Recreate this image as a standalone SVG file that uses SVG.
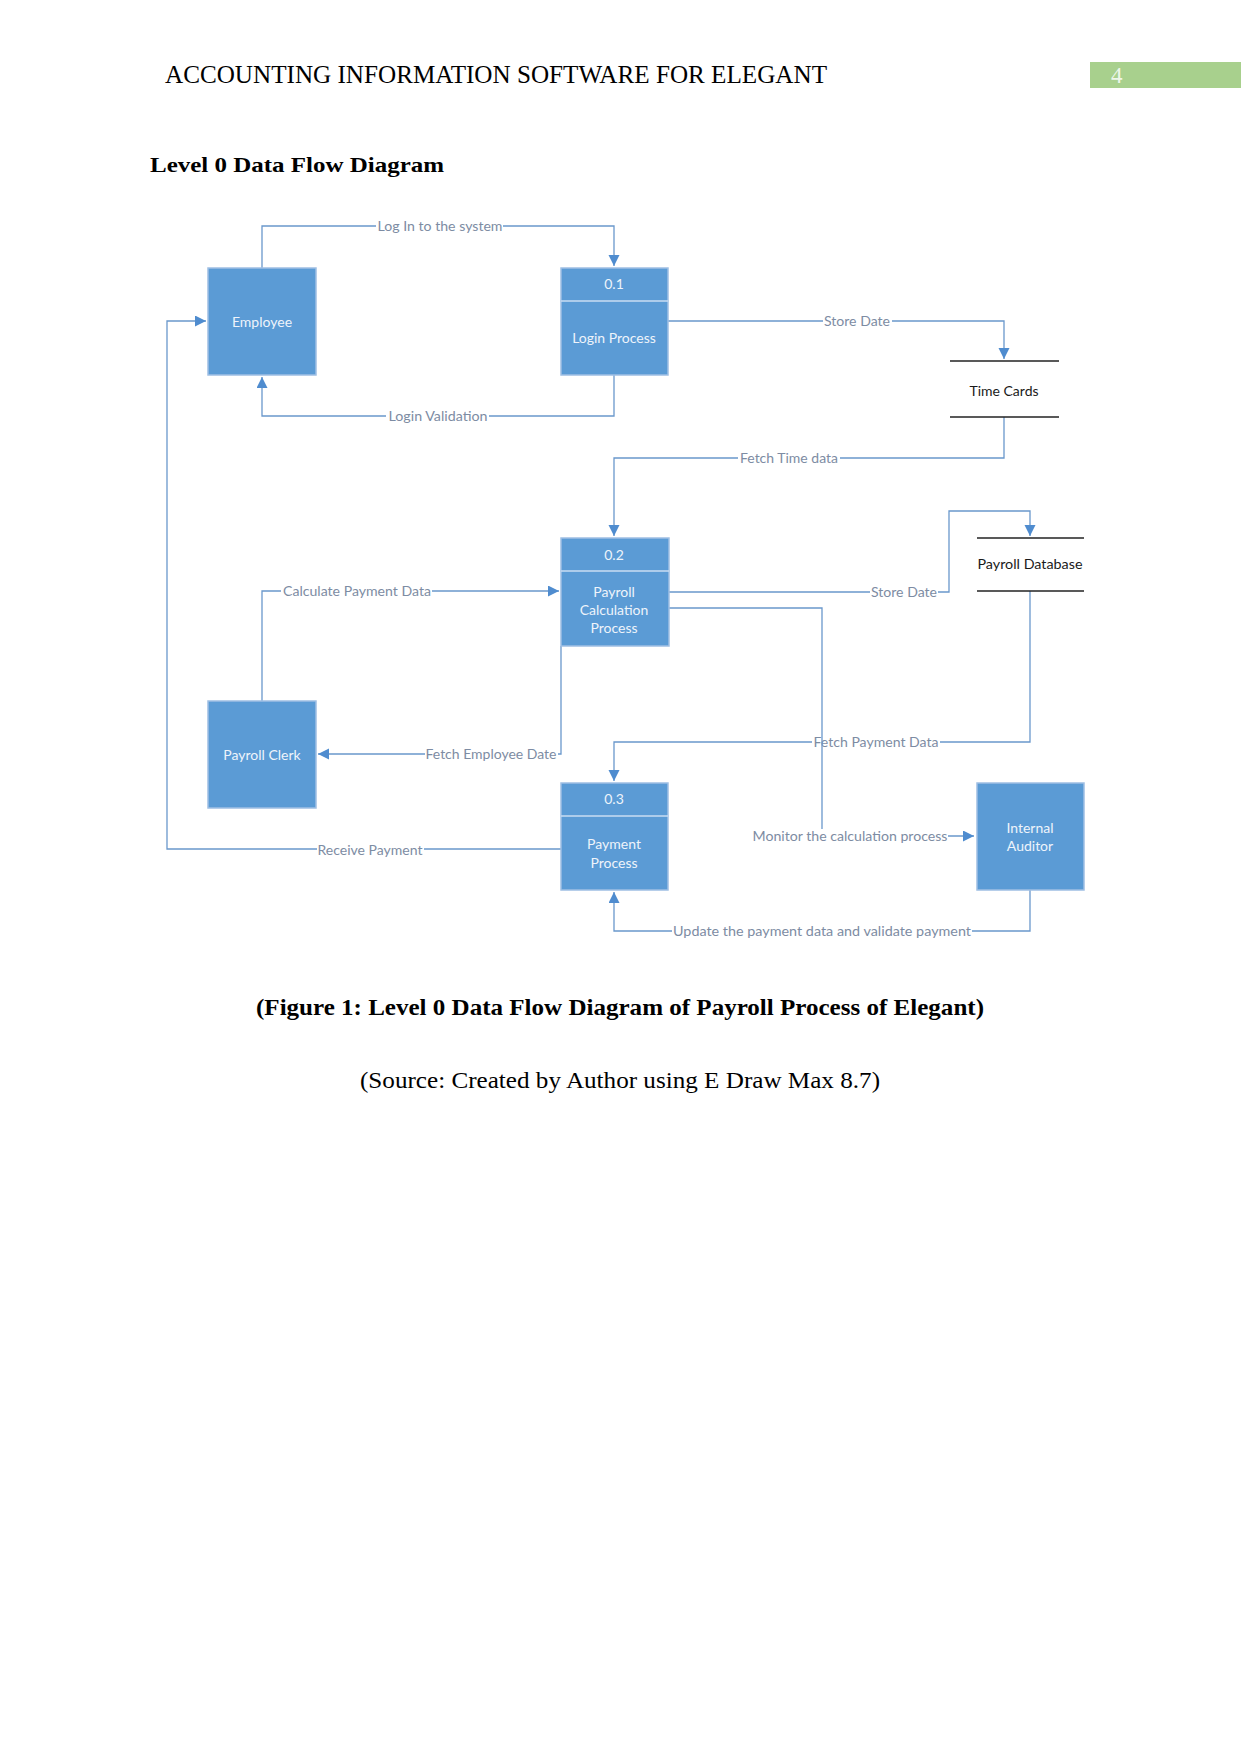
<svg xmlns="http://www.w3.org/2000/svg" width="1241" height="1754" viewBox="0 0 1241 1754">
<style>
.serif{font-family:"Liberation Serif","Times New Roman",serif;fill:#000}
.box{fill:#5b9bd5;stroke:#9fbfe3;stroke-width:1.5}
.div{stroke:#c9dcf2;stroke-width:1.5}
.bt{font-family:Lato,"Open Sans",sans-serif;font-size:14px;fill:#eef4fb;text-anchor:middle;dominant-baseline:central}
.st{font-family:Lato,"Open Sans",sans-serif;font-size:14px;fill:#1a1a1a;text-anchor:middle;dominant-baseline:central}
.ds{stroke:#222;stroke-width:1.4}
.cn{fill:none;stroke:#6a98cc;stroke-width:1.3}
.bg{fill:#fff}
.lb{font-family:Lato,"Open Sans",sans-serif;font-size:13px;fill:#7d8ca3;text-anchor:middle;dominant-baseline:central}
</style>
<defs>
<marker id="ah" markerUnits="userSpaceOnUse" markerWidth="12" markerHeight="12" refX="11" refY="5.5" orient="auto">
<path d="M0,0 L11,5.5 L0,11 z" fill="#4f8ccf"/>
</marker>
</defs>
<rect width="1241" height="1754" fill="#fff"/>

<g id="header">
<text class="serif" x="165" y="83" font-size="24.5" textLength="662" lengthAdjust="spacingAndGlyphs">ACCOUNTING INFORMATION SOFTWARE FOR ELEGANT</text>
<rect x="1090" y="62" width="151" height="26" fill="#a8d08d"/>
<text x="1111" y="83" font-family="Liberation Serif,serif" font-size="23" fill="#eef6ea">4</text>
</g>
<g id="title">
<text class="serif" x="150" y="172" font-size="22" font-weight="bold" textLength="294" lengthAdjust="spacingAndGlyphs">Level 0 Data Flow Diagram</text>
</g>

<g id="connectors">
<g id="c-login"><path class="cn" d="M262,268 V226 H614 V266" marker-end="url(#ah)"/><rect class="bg" x="376" y="219" width="127" height="14"/><text class="lb" x="440" y="226" textLength="125" lengthAdjust="spacingAndGlyphs">Log In to the system</text></g>
<g id="c-validation"><path class="cn" d="M614,375 V416 H262 V377" marker-end="url(#ah)"/><rect class="bg" x="386" y="409" width="103" height="14"/><text class="lb" x="438" y="416" textLength="99" lengthAdjust="spacingAndGlyphs">Login Validation</text></g>
<g id="c-store1"><path class="cn" d="M668,321 H1004 V359" marker-end="url(#ah)"/><rect class="bg" x="823" y="314" width="69" height="14"/><text class="lb" x="857" y="321" textLength="66" lengthAdjust="spacingAndGlyphs">Store Date</text></g>
<g id="c-fetchtime"><path class="cn" d="M1004,417 V458 H614 V536" marker-end="url(#ah)"/><rect class="bg" x="738" y="451" width="102" height="14"/><text class="lb" x="789" y="458" textLength="98" lengthAdjust="spacingAndGlyphs">Fetch Time data</text></g>
<g id="c-store2"><path class="cn" d="M669,592 H949 V511 H1030 V536" marker-end="url(#ah)"/><rect class="bg" x="870" y="585" width="68" height="14"/><text class="lb" x="904" y="592" textLength="66" lengthAdjust="spacingAndGlyphs">Store Date</text></g>
<g id="c-calc"><path class="cn" d="M262,701 V591 H559" marker-end="url(#ah)"/><rect class="bg" x="281" y="584" width="151" height="14"/><text class="lb" x="357" y="591" textLength="148" lengthAdjust="spacingAndGlyphs">Calculate Payment Data</text></g>
<g id="c-fetchemp"><path class="cn" d="M561,646 V754 H318" marker-end="url(#ah)"/><rect class="bg" x="425" y="747" width="133" height="14"/><text class="lb" x="491" y="754" textLength="131" lengthAdjust="spacingAndGlyphs">Fetch Employee Date</text></g>
<g id="c-fetchpay"><path class="cn" d="M1030,591 V742 H614 V781" marker-end="url(#ah)"/><rect class="bg" x="812" y="735" width="128" height="14"/><text class="lb" x="876" y="742" textLength="125" lengthAdjust="spacingAndGlyphs">Fetch Payment Data</text></g>
<g id="c-monitor"><path class="cn" d="M669,608 H822 V836 H974" marker-end="url(#ah)"/><rect class="bg" x="751" y="829" width="197" height="14"/><text class="lb" x="850" y="836" textLength="195" lengthAdjust="spacingAndGlyphs">Monitor the calculation process</text></g>
<g id="c-receive"><path class="cn" d="M561,849 H167 V321 H206" marker-end="url(#ah)"/><rect class="bg" x="317" y="842" width="107" height="14"/><text class="lb" x="370" y="850" textLength="105" lengthAdjust="spacingAndGlyphs">Receive Payment</text></g>
<g id="c-update"><path class="cn" d="M1030,889 V931 H614 V892" marker-end="url(#ah)"/><rect class="bg" x="672" y="924" width="300" height="14"/><text class="lb" x="822" y="931" textLength="298" lengthAdjust="spacingAndGlyphs">Update the payment data and validate payment</text></g>
</g>

<g id="employee"><rect class="box" x="208" y="268" width="108" height="107"/><text class="bt" x="262" y="321">Employee</text></g>
<g id="p01"><rect class="box" x="561" y="268" width="107" height="107"/><line class="div" x1="561" y1="301" x2="668" y2="301"/><text class="bt" x="614" y="283">0.1</text><text class="bt" x="614" y="337">Login Process</text></g>
<g id="timecards"><line class="ds" x1="950" y1="361" x2="1059" y2="361"/><line class="ds" x1="950" y1="417" x2="1059" y2="417"/><text class="st" x="1004" y="390">Time Cards</text></g>
<g id="p02"><rect class="box" x="561" y="538" width="108" height="108"/><line class="div" x1="561" y1="571" x2="669" y2="571"/><text class="bt" x="614" y="554">0.2</text><text class="bt" x="614" y="591">Payroll</text><text class="bt" x="614" y="609">Calculation</text><text class="bt" x="614" y="627">Process</text></g>
<g id="payrolldb"><line class="ds" x1="977" y1="538" x2="1084" y2="538"/><line class="ds" x1="977" y1="591" x2="1084" y2="591"/><text class="st" x="1030" y="563" textLength="105" lengthAdjust="spacingAndGlyphs">Payroll Database</text></g>
<g id="payrollclerk"><rect class="box" x="208" y="701" width="108" height="107"/><text class="bt" x="262" y="754">Payroll Clerk</text></g>
<g id="p03"><rect class="box" x="561" y="783" width="107" height="107"/><line class="div" x1="561" y1="816" x2="668" y2="816"/><text class="bt" x="614" y="798">0.3</text><text class="bt" x="614" y="843">Payment</text><text class="bt" x="614" y="862">Process</text></g>
<g id="auditor"><rect class="box" x="977" y="783" width="107" height="107"/><text class="bt" x="1030" y="827">Internal</text><text class="bt" x="1030" y="845">Auditor</text></g>

<g id="caption">
<text class="serif" x="620" y="1015" font-size="24" font-weight="bold" text-anchor="middle" textLength="728" lengthAdjust="spacingAndGlyphs">(Figure 1: Level 0 Data Flow Diagram of Payroll Process of Elegant)</text>
<text class="serif" x="620" y="1088" font-size="24" text-anchor="middle" textLength="520" lengthAdjust="spacingAndGlyphs">(Source: Created by Author using E Draw Max 8.7)</text>
</g>
</svg>
